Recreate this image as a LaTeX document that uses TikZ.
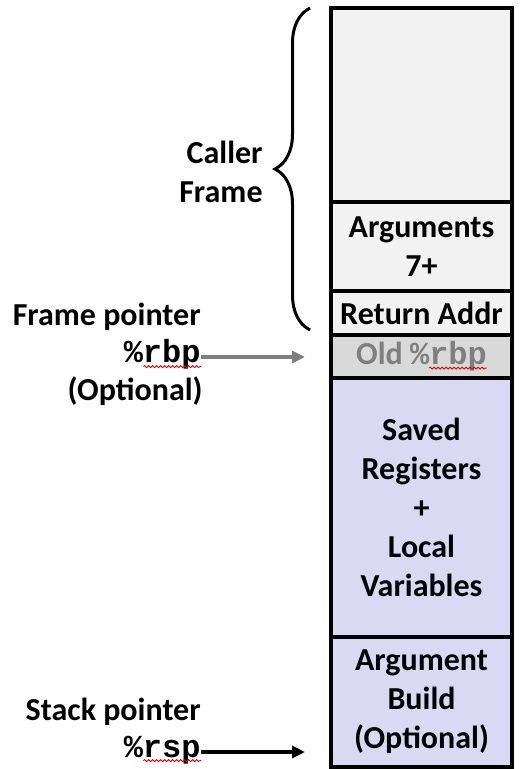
\documentclass[tikz,border=0pt]{standalone}
\usepackage{fontspec}
\setmainfont{Carlito}
\setmonofont{Liberation Mono}
\usetikzlibrary{positioning,arrows.meta,decorations.pathreplacing,decorations.pathmorphing}
\definecolor{frametop}{RGB}{242,242,242}
\definecolor{oldgray}{RGB}{217,217,217}
\definecolor{calleecol}{RGB}{217,217,243}
\definecolor{textgray}{RGB}{127,127,127}

\begin{document}
\begin{tikzpicture}[x=0.5pt, y=-0.5pt, font=\fontsize{16}{19.5}\selectfont\bfseries]

% Define the node styles
\tikzstyle{slot}=[draw, line width=2pt, outer sep=0pt, inner sep=0pt, minimum width=90.5pt, align=center]
\tikzstyle{callerslot}=[slot, fill=frametop]
\tikzstyle{calleeslot}=[slot, fill=calleecol]
\tikzstyle{sidetext}=[inner sep=0pt, anchor=base east, align=right]
\tikzstyle{pointer}=[-{Triangle[length=6.5pt,width=6pt]}, line width=2pt, shorten >=13pt]
\tikzstyle{squiggle}=[red!85!black, line width=0.4pt, decorate, decoration={snake, amplitude=0.5pt, segment length=2pt}]
\tikzstyle{framebrace}=[line width=1.5pt, decorate, decoration={brace, amplitude=17.5pt}]

\useasboundingbox (0,0) rectangle (522,769);

% Define the nodes
\node[callerslot, minimum height=97pt, anchor=north west] (callerframe) at (331,8) {};
\node[callerslot, minimum height=44.5pt, below=0pt of callerframe] (args) {Arguments\\7+};
\node[callerslot, minimum height=22pt, below=0pt of args] (retaddr) {Return Addr};
\node[slot, fill=oldgray, text=textgray, minimum height=21.5pt, below=0pt of retaddr] (oldrbp) {Old \texttt{\%rbp}};
\node[calleeslot, minimum height=129.5pt, below=0pt of oldrbp] (saved) {Saved\\Registers\\+\\Local\\Variables};
\node[calleeslot, minimum height=65pt, below=0pt of saved] (argbuild) {Argument\\Build\\(Optional)};

\node[sidetext, anchor=east] (callerlbl) at (263,172) {Caller\\Frame};
\node[sidetext] (framelbl) at (201,326) {Frame pointer};
\node[sidetext] (rbp) at (201,363) {\texttt{\%rbp}};
\node[sidetext] (optlbl) at (203,400) {(Optional)};
\node[sidetext] (stacklbl) at (201,720) {Stack pointer};
\node[sidetext] (rsp) at (201,757) {\texttt{\%rsp}};

% Caller frame brace
\draw[framebrace] ([xshift=-10.5pt,yshift=2.5pt]retaddr.south west) -- ([xshift=-10.5pt]callerframe.north west);

% Add the edges
\path ([yshift=3pt]rbp.base east) coordinate (rbpfrom);
\path ([yshift=2.5pt]rsp.base east) coordinate (rspfrom);
\coordinate (rbpto) at (rbpfrom -| oldrbp.west);
\coordinate (rspto) at (rspfrom -| argbuild.west);
\draw[pointer, textgray] (rbpfrom) -- (rbpto);
\draw[pointer] (rspfrom) -- (rspto);

% spell-check marks
\draw[squiggle] ([xshift=-28.8pt,yshift=-1.8pt]rbp.base east) -- ([yshift=-1.8pt]rbp.base east);
\draw[squiggle] ([xshift=-28.8pt,yshift=-1.8pt]rsp.base east) -- ([yshift=-1.8pt]rsp.base east);
\draw[squiggle] ([xshift=3.7pt,yshift=-5.8pt]oldrbp.center) -- ([xshift=32.5pt,yshift=-5.8pt]oldrbp.center);

\end{tikzpicture}
\end{document}
